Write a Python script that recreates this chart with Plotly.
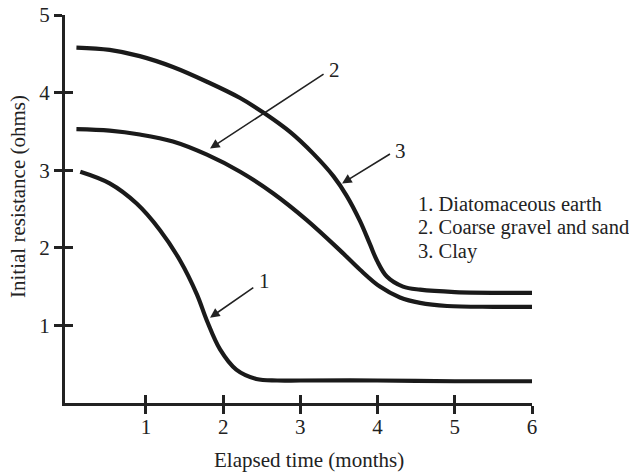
import plotly.graph_objects as go

# Elapsed time (months) and initial resistance (ohms) for each soil type
months_diatom = [0.15, 0.53, 0.88, 1.18, 1.44, 1.66, 1.79, 1.96, 2.17, 2.43, 2.7, 3.0, 4.0, 5.0, 6.0]
ohms_diatom = [2.98, 2.83, 2.57, 2.23, 1.84, 1.40, 1.06, 0.69, 0.43, 0.31, 0.29, 0.29, 0.29, 0.28, 0.28]

months_gravel = [0.10, 0.53, 0.92, 1.35, 1.79, 2.22, 2.65, 3.08, 3.51, 3.77, 4.03, 4.29, 4.55, 4.9, 5.5, 6.0]
ohms_gravel = [3.53, 3.51, 3.46, 3.37, 3.20, 2.98, 2.70, 2.36, 1.97, 1.72, 1.50, 1.36, 1.29, 1.25, 1.24, 1.24]

months_clay = [0.10, 0.53, 0.92, 1.35, 1.79, 2.22, 2.54, 2.87, 3.17, 3.43, 3.60, 3.77, 3.90, 3.99, 4.12, 4.33, 4.55, 5.0, 6.0]
ohms_clay = [4.58, 4.55, 4.47, 4.33, 4.14, 3.93, 3.73, 3.49, 3.21, 2.92, 2.67, 2.35, 2.05, 1.84, 1.63, 1.50, 1.46, 1.43, 1.42]

x_ticks = [1, 2, 3, 4, 5, 6]
y_ticks = [1, 2, 3, 4, 5]
key_labels = ["1. Diatomaceous earth", "2. Coarse gravel and sand", "3. Clay"]

INK = "#222222"
FONT = "Liberation Serif"
FS = 21

fig = go.Figure()
for xs, ys in [(months_diatom, ohms_diatom), (months_gravel, ohms_gravel), (months_clay, ohms_clay)]:
    fig.add_trace(go.Scatter(
        x=xs, y=ys, mode="lines",
        line=dict(color="#1a1a1a", width=4.2, shape="spline", smoothing=1.0),
        showlegend=False, hoverinfo="skip",
    ))

# empty trace so the overlay axes (inner half of the crossing ticks) are drawn
fig.add_trace(go.Scatter(x=[None], y=[None], xaxis="x2", yaxis="y2",
                         showlegend=False, hoverinfo="skip"))

xr = [-0.048, 6]
yr = [0, 5]
tick_common = dict(ticklen=8, tickwidth=2.8, tickcolor=INK, showgrid=False,
                   zeroline=False, automargin=False)
tfont = dict(family=FONT, size=FS, color=INK)

fig.update_layout(
    width=629, height=473,
    margin=dict(l=65, r=97, t=15, b=70, autoexpand=False),
    paper_bgcolor="white", plot_bgcolor="white",
    font=dict(family=FONT, size=FS, color=INK),
    xaxis=dict(range=xr, tickvals=x_ticks, ticks="outside", showline=True,
               linecolor=INK, linewidth=3, tickfont=tfont, ticklabelstandoff=-5,
               **tick_common),
    yaxis=dict(range=yr, tickvals=y_ticks, ticks="outside", showline=True,
               linecolor=INK, linewidth=3, tickfont=tfont, ticklabelstandoff=0,
               **tick_common),
    xaxis2=dict(range=xr, tickvals=x_ticks, ticks="inside", overlaying="x", side="bottom",
                anchor="y2", showticklabels=False, showline=False, **tick_common),
    yaxis2=dict(range=yr, tickvals=y_ticks, ticks="inside", overlaying="y", side="left",
                anchor="x2", showticklabels=False, showline=False, **tick_common),
)

# axis titles
fig.add_annotation(text="Elapsed time (months)", xref="paper", yref="paper",
                   x=0.5225, y=-0.147, showarrow=False, xanchor="center", yanchor="middle",
                   font=tfont)
fig.add_annotation(text="Initial resistance (ohms)", xref="paper", yref="paper",
                   x=-0.1006, y=0.531, showarrow=False, textangle=-90,
                   xanchor="center", yanchor="middle", font=tfont)

# numbered callout arrows: (tip x, tip y, tail x, tail y, label x, label y)
callouts = [
    ("1", 1.83, 1.10, 2.41, 1.50, 2.53, 1.57),
    ("2", 1.83, 3.28, 3.32, 4.25, 3.44, 4.29),
    ("3", 3.54, 2.83, 4.18, 3.22, 4.30, 3.25),
]
for label, tx, ty, sx, sy, lx, ly in callouts:
    fig.add_annotation(x=tx, y=ty, ax=sx, ay=sy, xref="x", yref="y", axref="x", ayref="y",
                       text="", showarrow=True, arrowhead=2, arrowsize=1.2,
                       arrowwidth=1.6, arrowcolor=INK)
    fig.add_annotation(x=lx, y=ly, xref="x", yref="y", text=label, showarrow=False,
                       xanchor="center", yanchor="middle", font=tfont)

# key listing the soil types
for i, txt in enumerate(key_labels):
    fig.add_annotation(x=4.50, y=2.56 - 0.302 * i, xref="x", yref="y", text=txt,
                       showarrow=False, xanchor="left", yanchor="middle",
                       font=dict(family=FONT, size=20.5, color=INK))

fig.write_html("out.html")
